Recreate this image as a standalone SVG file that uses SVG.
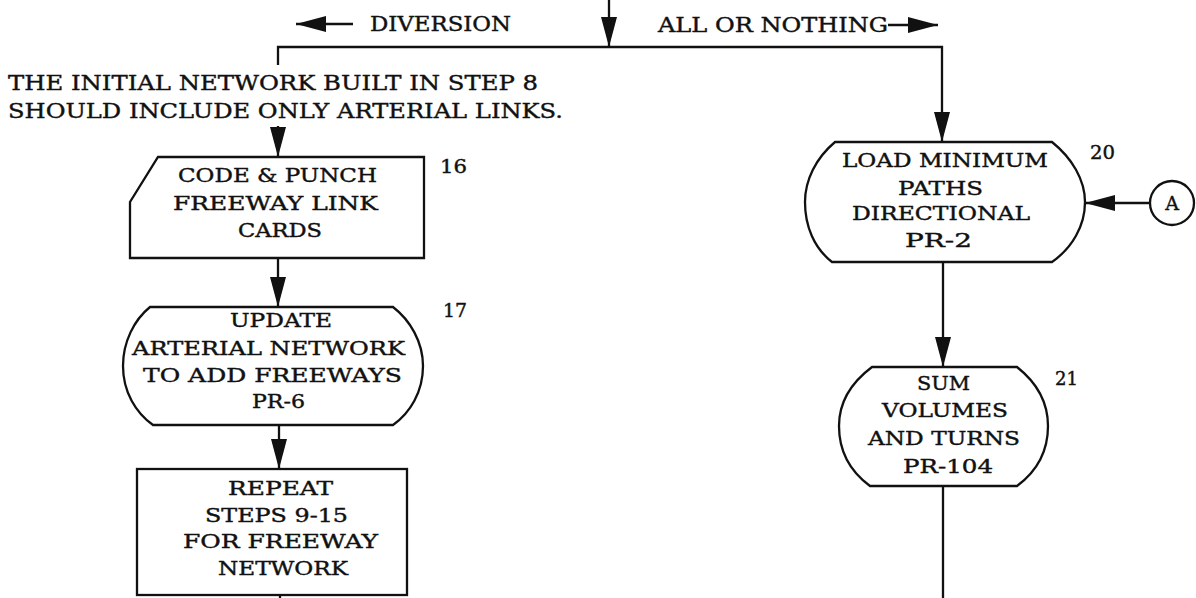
<svg xmlns="http://www.w3.org/2000/svg" width="1196" height="598" viewBox="0 0 1196 598">
<style>
.bg{fill:#fff}
.shape{fill:#fff;stroke:#111;stroke-width:2.3}
.ln{fill:none;stroke:#111;stroke-width:2.3}
text{font-family:"DejaVu Serif","Liberation Serif",serif;fill:#111;stroke:#111;stroke-width:0.4}
.t{font-size:19px}
.n{font-size:18px}
.lbl{font-size:20px}
.note{font-size:21px}
</style>
<defs>
<marker id="ah" viewBox="0 0 30 16" markerWidth="30" markerHeight="16" refX="30" refY="8" orient="auto" markerUnits="userSpaceOnUse">
<path d="M0,0 L30,8 L0,16 Z" fill="#111"/>
</marker>
</defs>
<rect class="bg" x="0" y="0" width="1196" height="598"/>

<g id="connectors">
<path class="ln" d="M609,0 L609,47" marker-end="url(#ah)"/>
<path class="ln" d="M278,65 L278,47 L942,47 L942,142" marker-end="url(#ah)"/>
<path class="ln" d="M353,24 L296,24" marker-end="url(#ah)"/>
<path class="ln" d="M888,25 L938,25" marker-end="url(#ah)"/>
<path class="ln" d="M278,126 L278,157" marker-end="url(#ah)"/>
<path class="ln" d="M278,258 L278,307" marker-end="url(#ah)"/>
<path class="ln" d="M279,425 L279,469" marker-end="url(#ah)"/>
<path class="ln" d="M280,595 L280,598"/>
<path class="ln" d="M943,262 L943,367" marker-end="url(#ah)"/>
<path class="ln" d="M943,486 L943,598"/>
<path class="ln" d="M1150,203 L1085,203" marker-end="url(#ah)"/>
</g>

<g id="branch-labels">
<text class="lbl" x="370" y="31" textLength="141" lengthAdjust="spacingAndGlyphs">DIVERSION</text>
<text class="lbl" x="658" y="32" textLength="230" lengthAdjust="spacingAndGlyphs">ALL OR NOTHING</text>
</g>

<g id="note">
<text class="note" x="8" y="90" textLength="530" lengthAdjust="spacingAndGlyphs">THE INITIAL NETWORK BUILT IN STEP 8</text>
<text class="note" x="8" y="118" textLength="555" lengthAdjust="spacingAndGlyphs">SHOULD INCLUDE ONLY ARTERIAL LINKS.</text>
</g>

<g id="node16">
<path class="shape" d="M158,157 L424,157 L424,258 L130,258 L130,202 Z"/>
<text class="t" x="178" y="182" textLength="199" lengthAdjust="spacingAndGlyphs">CODE &amp; PUNCH</text>
<text class="t" x="173" y="210" textLength="205" lengthAdjust="spacingAndGlyphs">FREEWAY LINK</text>
<text class="t" x="238" y="237" textLength="84" lengthAdjust="spacingAndGlyphs">CARDS</text>
<text class="n" x="440" y="173" textLength="27" lengthAdjust="spacingAndGlyphs">16</text>
</g>

<g id="node17">
<path class="shape" d="M150,307 L393,307 C410,320 423,342 423,366 C423,392 410,413 393,425 L153,425 C136,413 123,392 123,366 C123,342 134,320 150,307 Z"/>
<text class="t" x="230" y="327" textLength="102" lengthAdjust="spacingAndGlyphs">UPDATE</text>
<text class="t" x="132" y="355" textLength="273" lengthAdjust="spacingAndGlyphs">ARTERIAL NETWORK</text>
<text class="t" x="143" y="382" textLength="259" lengthAdjust="spacingAndGlyphs">TO ADD FREEWAYS</text>
<text class="t" x="252" y="408" textLength="53" lengthAdjust="spacingAndGlyphs">PR-6</text>
<text class="n" x="443" y="317" textLength="24" lengthAdjust="spacingAndGlyphs">17</text>
</g>

<g id="node18">
<rect class="shape" x="137" y="469" width="270" height="126"/>
<text class="t" x="228" y="495" textLength="105" lengthAdjust="spacingAndGlyphs">REPEAT</text>
<text class="t" x="205" y="522" textLength="143" lengthAdjust="spacingAndGlyphs">STEPS 9-15</text>
<text class="t" x="183" y="548" textLength="195" lengthAdjust="spacingAndGlyphs">FOR FREEWAY</text>
<text class="t" x="218" y="575" textLength="130" lengthAdjust="spacingAndGlyphs">NETWORK</text>
</g>

<g id="node20">
<path class="shape" d="M835,142 L1052,142 C1072,158 1085,180 1085,202 C1085,226 1072,248 1052,262 L832,262 C814,248 805,226 805,202 C805,180 816,158 835,142 Z"/>
<text class="t" x="842" y="167" textLength="206" lengthAdjust="spacingAndGlyphs">LOAD MINIMUM</text>
<text class="t" x="898" y="195" textLength="85" lengthAdjust="spacingAndGlyphs">PATHS</text>
<text class="t" x="852" y="220" textLength="178" lengthAdjust="spacingAndGlyphs">DIRECTIONAL</text>
<text class="t" x="905" y="247" textLength="67" lengthAdjust="spacingAndGlyphs">PR-2</text>
<text class="n" x="1090" y="159" textLength="25" lengthAdjust="spacingAndGlyphs">20</text>
</g>

<g id="node21">
<path class="shape" d="M872,367 L1017,367 C1036,382 1048,402 1048,426 C1048,452 1036,472 1017,486 L870,486 C851,472 839,452 839,426 C839,402 852,382 872,367 Z"/>
<text class="t" x="917" y="390" textLength="53" lengthAdjust="spacingAndGlyphs">SUM</text>
<text class="t" x="882" y="417" textLength="126" lengthAdjust="spacingAndGlyphs">VOLUMES</text>
<text class="t" x="868" y="445" textLength="152" lengthAdjust="spacingAndGlyphs">AND TURNS</text>
<text class="t" x="903" y="473" textLength="90" lengthAdjust="spacingAndGlyphs">PR-104</text>
<text class="n" x="1055" y="385" textLength="23" lengthAdjust="spacingAndGlyphs">21</text>
</g>

<g id="connectorA">
<circle class="shape" cx="1172" cy="203" r="22"/>
<text class="t" x="1172" y="210" text-anchor="middle">A</text>
</g>
</svg>
